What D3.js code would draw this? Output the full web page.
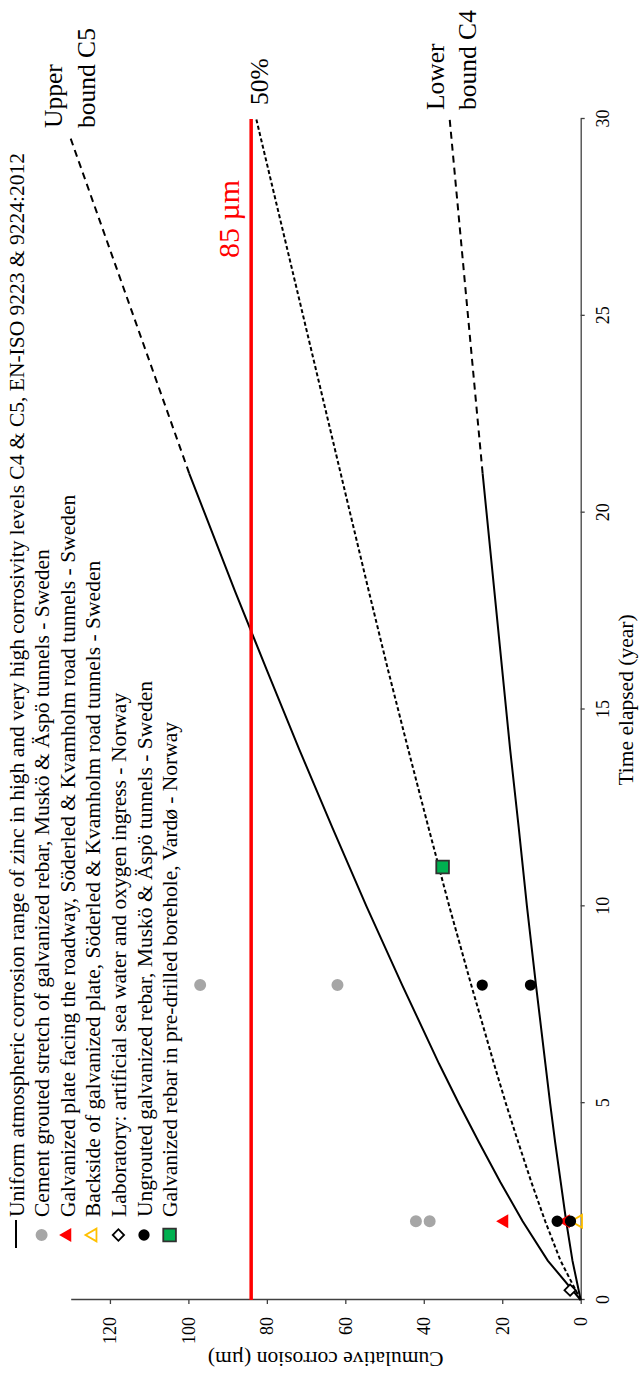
<!DOCTYPE html>
<html>
<head>
<meta charset="utf-8">
<script src="https://cdn.jsdelivr.net/npm/d3@7"></script>
<style>
  body { margin: 0; background: #fff; }
  svg { display: block; font-family: "Liberation Serif", "Times New Roman", serif; }
</style>
</head>
<body>
<svg id="chart"></svg>
<script>
const width = 640;
const height = 1378;

// corrosion bands (µm), solid part up to 21 years
const yearsSolid = [0, 1, 2, 3, 4, 5, 6, 8, 10, 12, 14, 16, 18, 20, 21];
const upperSolid = [0, 8.4, 14.8, 20.5, 25.9, 31.1, 36.1, 45.5, 54.6, 63.3, 71.8, 80.0, 88.1, 95.9, 99.8];
const lowerSolid = [0, 2.1, 3.7, 5.1, 6.5, 7.8, 9.0, 11.4, 13.7, 15.8, 18.0, 20.0, 22.0, 24.0, 25.0];
// dashed extrapolation
const upperDashYears = [21, 29.5];
const upperDash = [99.8, 130];
const lowerDashYears = [21, 30];
const lowerDash = [25.0, 33.4];
// 50% curve
const medianYears = [0, 1, 2, 3, 4, 5, 6, 8, 10, 12, 14, 16, 18, 20, 30];
const median = [0, 5.15, 9.05, 12.6, 15.9, 19.1, 22.1, 27.9, 33.5, 38.8, 44.0, 49.1, 54.0, 58.8, 82.7];
const limitValue = 84;

// measurements
const cementYears = [2, 2, 8, 8];
const cementValues = [42, 38.5, 97, 62];
const roadwayYears = [2, 2];
const roadwayValues = [19.5, 3.8];
const backsideYears = [2];
const backsideValues = [0.6];
const labYears = [0.25];
const labValues = [2.7];
const ungroutedYears = [2, 2, 8, 8];
const ungroutedValues = [6.0, 2.6, 25.1, 12.8];
const vardoYears = [11];
const vardoValues = [35.2];

const timeTicks = [0, 5, 10, 15, 20, 25, 30];
const corrTicks = [0, 20, 40, 60, 80, 100, 120];

const legendLabels = [
  "Uniform atmospheric corrosion range of zinc in high and very high corrosivity levels C4 & C5, EN-ISO 9223 & 9224:2012",
  "Cement grouted stretch of galvanized rebar, Muskö & Äspö tunnels - Sweden",
  "Galvanized plate facing the roadway, Söderled & Kvamholm road tunnels - Sweden",
  "Backside of galvanized plate, Söderled & Kvamholm road tunnels - Sweden",
  "Laboratory: artificial sea water and oxygen ingress - Norway",
  "Ungrouted galvanized rebar, Muskö & Äspö tunnels - Sweden",
  "Galvanized rebar in pre-drilled borehole, Vardø - Norway"
];

const svg = d3.select("#chart").attr("width", width).attr("height", height);
svg.append("rect").attr("width", width).attr("height", height).attr("fill", "#fff");

// whole chart is turned a quarter turn counter-clockwise
const g = svg.append("g").attr("transform", `translate(0,${height}) rotate(-90)`);

const x = d3.scaleLinear().domain([0, 30]).range([78, 1259]);
const y = d3.scaleLinear().domain([0, 130]).range([580.7, 70.7]);

// axes
const xAxis = g.append("g")
    .attr("transform", `translate(0,${y(0)})`)
    .call(d3.axisBottom(x).tickValues(timeTicks).tickSize(4).tickSizeOuter(0).tickPadding(12));
const yAxis = g.append("g")
    .attr("transform", `translate(${x(0)},0)`)
    .call(d3.axisLeft(y).tickValues(corrTicks).tickSize(4).tickSizeOuter(0).tickPadding(13));

[xAxis, yAxis].forEach(a => {
  a.attr("font-family", null).attr("font-size", 18);
  a.select(".domain").attr("stroke", "#404040").attr("stroke-width", 1.3);
  a.selectAll(".tick line").attr("stroke", "#404040").attr("stroke-width", 1.3);
  a.selectAll(".tick text").attr("fill", "#000");
});

g.append("text")
    .attr("x", 678).attr("y", 633)
    .attr("text-anchor", "middle")
    .attr("font-size", 21.5)
    .text("Time elapsed (year)");

g.append("text")
    .attr("transform", `translate(26,${(y(0) + y(130)) / 2}) rotate(-90)`)
    .attr("text-anchor", "middle")
    .attr("font-size", 21.5)
    .text("Cumulative corrosion (µm)");

// curves
const line = d3.line().x(d => x(d[0])).y(d => y(d[1]));

function drawCurve(years, values, dash) {
  g.append("path")
      .datum(d3.zip(years, values))
      .attr("d", line)
      .attr("fill", "none")
      .attr("stroke", "#000")
      .attr("stroke-width", 2)
      .attr("stroke-dasharray", dash);
}

drawCurve(yearsSolid, upperSolid, null);
drawCurve(yearsSolid, lowerSolid, null);
drawCurve(upperDashYears, upperDash, "7,5");
drawCurve(lowerDashYears, lowerDash, "7,5");
drawCurve(medianYears, median, "4,2.5");

// 85 µm limit
g.append("line")
    .attr("x1", x(0)).attr("x2", x(30))
    .attr("y1", y(limitValue)).attr("y2", y(limitValue))
    .attr("stroke", "#ff0000")
    .attr("stroke-width", 3.5);

g.append("text")
    .attr("x", 1120).attr("y", 239)
    .attr("font-size", 30)
    .attr("fill", "#ff0000")
    .text("85 µm");

// curve labels
const notes = [
  { text: "Upper", u: 1250, v: 62 },
  { text: "bound C5", u: 1250, v: 95 },
  { text: "50%", u: 1273, v: 268 },
  { text: "Lower", u: 1268, v: 444 },
  { text: "bound C4", u: 1268, v: 476 }
];
g.selectAll(".note")
    .data(notes)
    .join("text")
    .attr("class", "note")
    .attr("x", d => d.u).attr("y", d => d.v)
    .attr("font-size", 25.5)
    .text(d => d.text);

// marker styles
const styles = [
  { type: d3.symbolCircle, size: 113, fill: "#a6a6a6", stroke: "none", rot: 0 },
  { type: d3.symbolTriangle, size: 85, fill: "#ff0000", stroke: "none", rot: 0 },
  { type: d3.symbolTriangle, size: 70, fill: "none", stroke: "#ffc000", rot: 0 },
  { type: d3.symbolSquare, size: 64, fill: "#fff", stroke: "#000", rot: 45 },
  { type: d3.symbolCircle, size: 100, fill: "#000", stroke: "none", rot: 0 },
  { type: d3.symbolSquare, size: 160, fill: "#00b050", stroke: "#303030", rot: 0 }
];

const series = [
  [cementYears, cementValues],
  [roadwayYears, roadwayValues],
  [backsideYears, backsideValues],
  [labYears, labValues],
  [ungroutedYears, ungroutedValues],
  [vardoYears, vardoValues]
];

function marker(sel, s) {
  sel.attr("d", d3.symbol().type(s.type).size(s.size))
     .attr("fill", s.fill)
     .attr("stroke", s.stroke)
     .attr("stroke-width", 1.8);
}

series.forEach((sr, i) => {
  const s = styles[i];
  g.append("g")
    .selectAll("path")
    .data(d3.zip(sr[0], sr[1]))
    .join("path")
    .attr("transform", d => `translate(${x(d[0])},${y(d[1])}) rotate(${s.rot})`)
    .call(marker, s);
});

// legend
const legend = g.append("g");
legendLabels.forEach((lbl, i) => {
  const v = 16 + 25.6 * i;
  if (i === 0) {
    legend.append("line")
        .attr("x1", 130).attr("x2", 158)
        .attr("y1", v).attr("y2", v)
        .attr("stroke", "#000").attr("stroke-width", 2);
  } else {
    const s = styles[i - 1];
    legend.append("path")
        .attr("transform", `translate(143,${v}) rotate(${s.rot})`)
        .call(marker, s);
  }
  legend.append("text")
      .attr("x", 161).attr("y", v)
      .attr("dy", "0.35em")
      .attr("font-size", 21.5)
      .text(lbl);
});
</script>
</body>
</html>
